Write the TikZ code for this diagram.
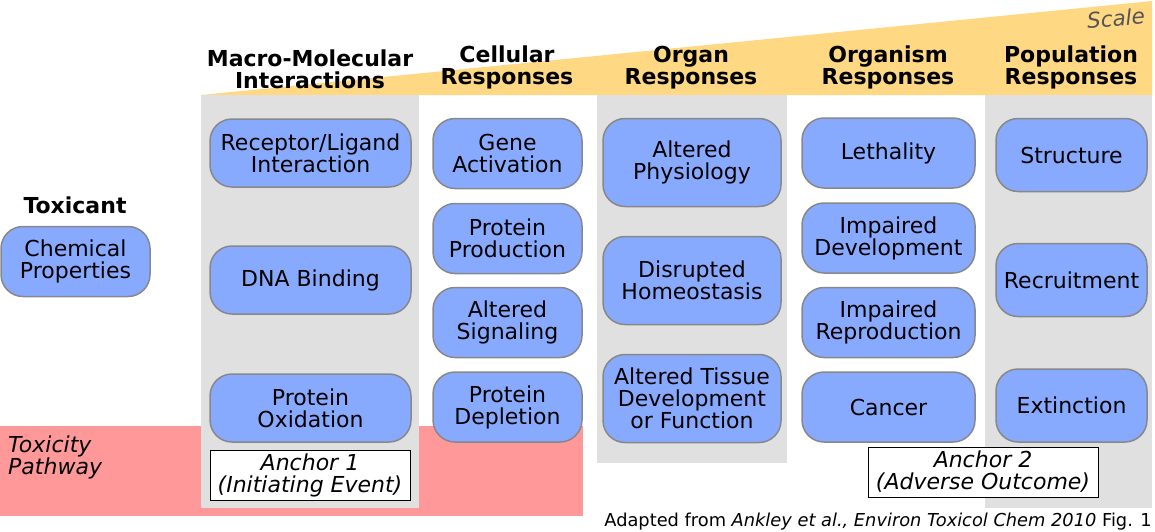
\documentclass[tikz,border=0pt]{standalone}
\usepackage{fontspec}
\setmainfont{DejaVu Sans}
\definecolor{boxblue}{RGB}{135,170,255}
\definecolor{boxedge}{RGB}{136,136,136}
\definecolor{colgray}{RGB}{224,224,224}
\definecolor{pathpink}{RGB}{255,153,153}
\definecolor{scaleyellow}{RGB}{255,216,132}
\definecolor{scalegray}{RGB}{85,85,85}
\begin{document}
\begin{tikzpicture}[x=1pt,y=-1pt,
  every node/.style={font=\fontsize{22}{22}\selectfont, align=center, inner sep=0pt},
  ev/.style={rectangle, rounded corners=22pt, draw=boxedge, line width=1.5pt, fill=boxblue},
  hdr/.style={font=\fontsize{22}{22}\selectfont\bfseries},
  anchorbox/.style={rectangle, draw=black, line width=1pt, fill=white, font=\fontsize{22}{22}\selectfont\itshape}
]
\useasboundingbox (0,0) rectangle (1155,531);
% backgrounds
\fill[pathpink] (0,426) rectangle (583,516);
\fill[scaleyellow] (201,95) -- (1152,1) -- (1152,95) -- cycle;
\fill[colgray] (201,95) rectangle (419,508);
\fill[colgray] (597,95) rectangle (787,463);
\fill[colgray] (985,95) rectangle (1152,508);
\node[anchor=east, text=scalegray, font=\fontsize{21.5}{22}\selectfont\itshape, rotate=4] (scale) at (1145,16) {Scale};
% headers
\node[hdr] (h1) at (310,69.5) {Macro-Molecular\\Interactions};
\node[hdr] (h2) at (507,67.5) {Cellular\\Responses};
\node[hdr] (h3) at (691,67.5) {Organ\\Responses};
\node[hdr] (h4) at (888,67.5) {Organism\\Responses};
\node[hdr] (h5) at (1071,67.5) {Population\\Responses};
\node[hdr] (tox) at (75,205) {Toxicant};
% toxicant
\node[ev, minimum width=149pt, minimum height=70pt] (chem) at (75.5,261.5) {Chemical\\Properties};
% column 1
\node[ev, minimum width=201pt, minimum height=68pt] (rec) at (310.5,153) {Receptor/Ligand\\Interaction};
\node[ev, minimum width=201pt, minimum height=68pt] (dna) at (310.5,280) {DNA Binding};
\node[ev, minimum width=201pt, minimum height=68pt] (pox) at (310.5,408) {Protein\\Oxidation};
\node[anchorbox, minimum width=200pt, minimum height=50pt] (a1) at (310,475) {Anchor 1\\(Initiating Event)};
% column 2
\node[ev, minimum width=149pt, minimum height=70pt] (gene) at (507.5,153.5) {Gene\\Activation};
\node[ev, minimum width=149pt, minimum height=70pt] (prod) at (507.5,238.5) {Protein\\Production};
\node[ev, minimum width=149pt, minimum height=70pt] (sig) at (507.5,322.5) {Altered\\Signaling};
\node[ev, minimum width=149pt, minimum height=70pt] (dep) at (507.5,407) {Protein\\Depletion};
% column 3
\node[ev, minimum width=178pt, minimum height=88pt] (phys) at (692,162.5) {Altered\\Physiology};
\node[ev, minimum width=178pt, minimum height=88pt] (homeo) at (692,280.5) {Disrupted\\Homeostasis};
\node[ev, minimum width=178pt, minimum height=88pt] (tissue) at (692,398.5) {Altered Tissue\\Development\\or Function};
% column 4
\node[ev, minimum width=173pt, minimum height=70pt] (leth) at (888.5,153) {Lethality};
\node[ev, minimum width=173pt, minimum height=70pt] (idev) at (888.5,238) {Impaired\\Development};
\node[ev, minimum width=173pt, minimum height=70pt] (irep) at (888.5,322.5) {Impaired\\Reproduction};
\node[ev, minimum width=173pt, minimum height=70pt] (canc) at (888.5,407) {Cancer};
\node[anchorbox, minimum width=230pt, minimum height=50pt] (a2) at (983,472) {Anchor 2\\(Adverse Outcome)};
% column 5
\node[ev, minimum width=151pt, minimum height=73pt] (struct) at (1071.5,155) {Structure};
\node[ev, minimum width=151pt, minimum height=73pt] (recr) at (1071.5,280) {Recruitment};
\node[ev, minimum width=151pt, minimum height=73pt] (ext) at (1071.5,405.5) {Extinction};
% labels
\node[anchor=north west, align=left, font=\fontsize{22}{22}\selectfont\itshape] (tp) at (8,436) {Toxicity\\Pathway};
\node[anchor=east, font=\fontsize{17.8}{19}\selectfont] (src) at (1152,521.5) {Adapted from \textit{Ankley et al., Environ Toxicol Chem 2010} Fig. 1};
\end{tikzpicture}
\end{document}
